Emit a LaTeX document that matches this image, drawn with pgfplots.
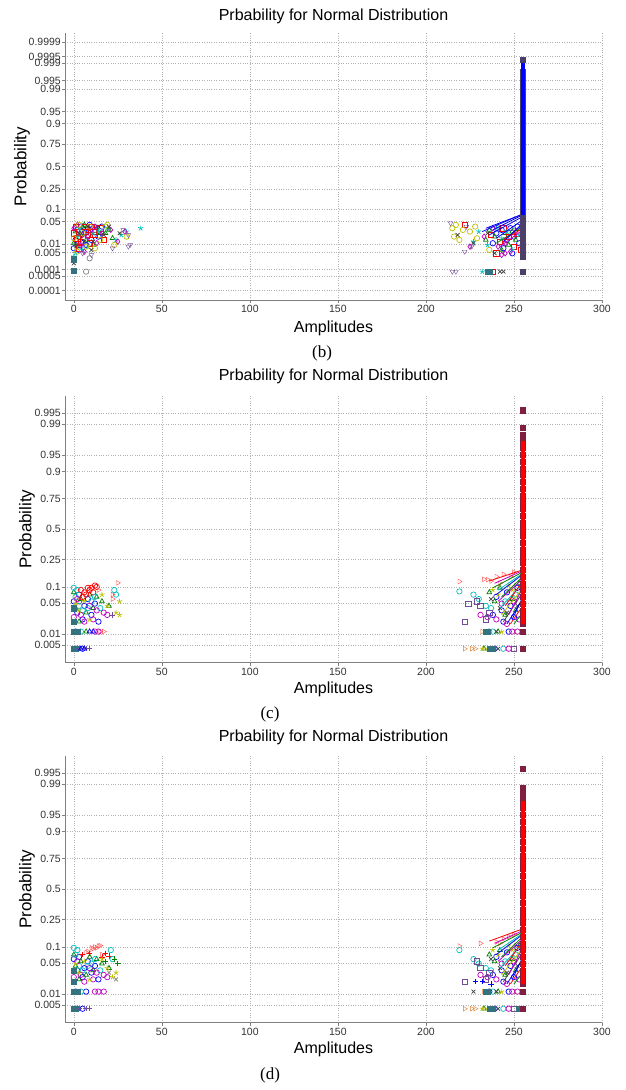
\documentclass[border=0pt]{standalone}
\usepackage{pgfplots}
\pgfplotsset{compat=1.18}
\usepackage{fontspec}
\setmainfont{Liberation Sans}
\newfontfamily\capfont{Liberation Serif}
\definecolor{mb}{rgb}{0,0,1}
\definecolor{mg}{rgb}{0,0.5,0}
\definecolor{mr}{rgb}{1,0,0}
\definecolor{mc}{rgb}{0,0.75,0.75}
\definecolor{mm}{rgb}{0.75,0,0.75}
\definecolor{my}{rgb}{0.75,0.75,0}
\definecolor{mk}{rgb}{0.25,0.25,0.25}
\definecolor{mp}{rgb}{0.45,0.3,0.6}
\definecolor{mo}{rgb}{0.85,0.5,0.2}
\definecolor{mt}{rgb}{0.2,0.45,0.5}
\definecolor{sqb}{rgb}{0.3,0.25,0.42}
\definecolor{sqr}{rgb}{0.5,0.12,0.25}
\definecolor{axgray}{rgb}{0.5,0.5,0.5}
\pgfplotsset{
  npp/.style={
    scale only axis, width=537pt, height=267pt,
    xmin=-5, xmax=300, xtick={0,50,100,150,200,250,300},
    axis x line*=bottom, axis y line*=left,
    axis line style={axgray, line width=0.8pt},
    tick style={axgray, line width=0.6pt}, tick align=outside, major tick length=3pt,
    grid=major, major grid style={dotted, gray!60, line width=0.6pt},
    tick label style={font=\fontsize{10.5}{12}\selectfont, text=black!80},
    yticklabel style={inner sep=1pt},
    xticklabel style={inner sep=2pt},
    /pgf/number format/assume math mode=true,
    title={Prbability for Normal Distribution},
    every axis title/.style={anchor=center, font=\fontsize{16}{19}\selectfont},
    xlabel={Amplitudes}, ylabel={Probability},
    every axis x label/.style={anchor=center, font=\fontsize{16}{19}\selectfont},
    every axis y label/.style={rotate=90, anchor=center, font=\fontsize{17}{19}\selectfont},
    clip=false, clip marker paths=true,
  },
  pm/.style={only marks, mark size=2.7pt, mark options={line width=0.7pt, solid}},
  sq/.style={only marks, mark=square*, mark size=2.6pt},
  fl/.style={line width=0.8pt},
}
\begin{document}
\begin{tikzpicture}
\path[use as bounding box] (0,0) rectangle (626pt,1090pt);
% ---------------- panel (b) ----------------
\begin{axis}[npp, at={(65pt,790pt)}, anchor=south west,
  ymin=-4.0, ymax=4.0,
  ytick={-3.7190,-3.2905,-3.0902,-2.5758,-2.3263,-1.6449,-1.2816,-0.6745,0,0.6745,1.2816,1.6449,2.3263,2.5758,3.0902,3.2905,3.7190},
  yticklabels={0.0001,0.0005,0.001,0.005,0.01,0.05,0.1,0.25,0.5,0.75,0.9,0.95,0.99,0.995,0.999,0.9995,0.9999},
  title style={at={(axis description cs:0.5,1.064)}},
  xlabel style={at={(axis description cs:0.5,-0.105)}},
  ylabel style={at={(axis description cs:-0.080,0.5)}}]
% left cluster
\addplot[pm, mb, mark=o] coordinates {(0,-2.45) (1,-2.2) (2,-1.9) (3,-2.1) (4,-1.8) (5,-2.3) (6,-2.0) (8,-1.85) (10,-2.2) (12,-1.9) (14,-2.1) (16,-1.8) (3,-2.5) (7,-2.35) (9,-1.75)};
\addplot[pm, mg, mark=triangle] coordinates {(0,-2.3) (1,-1.95) (2,-2.4) (4,-2.05) (5,-1.8) (7,-2.2) (9,-1.95) (11,-2.35) (13,-1.85) (18,-2.0) (20,-1.9) (22,-2.15) (6,-1.75) (15,-2.0)};
\addplot[pm, mr, mark=square] coordinates {(0,-2.0) (1,-1.8) (3,-2.45) (4,-2.25) (6,-1.8) (7,-1.95) (9,-2.3) (10,-1.8) (12,-2.05) (15,-1.85) (17,-2.2) (2,-2.15) (8,-2.05) (11,-1.95)};
\addplot[pm, mc, mark=star] coordinates {(0,-2.7) (1,-2.6) (2,-2.1) (3,-1.85) (5,-2.5) (8,-2.4) (11,-2.0) (14,-1.95) (19,-1.85) (24,-2.2) (27,-2.05) (30,-1.95) (38,-1.85)};
\addplot[pm, mm, mark=diamond] coordinates {(0,-1.85) (2,-1.75) (4,-2.35) (6,-2.55) (8,-2.1) (10,-1.9) (13,-2.3) (16,-2.0) (21,-1.9) (25,-2.25) (29,-1.95) (5,-2.05) (12,-1.8)};
\addplot[pm, my, mark=o] coordinates {(0,-2.15) (2,-2.55) (3,-1.75) (5,-2.0) (7,-2.4) (9,-1.8) (12,-2.45) (15,-2.2) (18,-1.8) (23,-2.35) (30,-2.1) (19,-1.75)};
\addplot[pm, mk, mark=x] coordinates {(0,-2.9) (1,-2.35) (3,-2.0) (6,-2.25) (8,-1.8) (11,-2.25) (14,-1.8) (17,-2.05) (20,-1.8) (26,-2.0) (10,-2.5)};
\addplot[pm, mp, mark=triangle, mark options={rotate=180}] coordinates {(0,-3.1) (10,-2.65) (31,-2.4) (32,-2.35) (22,-2.45) (5,-2.6) (28,-1.9) (31,-2.05)};
\addplot[pm, gray, mark=o] coordinates {(7,-3.15) (9,-2.75)};
\addplot[sq, mt] coordinates {(0,-3.12) (0,-2.78)};
% right cluster
\addplot[pm, mb, mark=o] coordinates {(240,-2.0) (243,-1.9) (246,-2.2) (248,-1.85) (250,-2.1) (252,-1.8) (253,-2.3) (238,-2.3) (244,-2.45) (249,-2.6)};
\addplot[pm, mg, mark=triangle] coordinates {(236,-1.9) (239,-2.1) (241,-1.8) (245,-2.0) (247,-2.35) (249,-1.95) (251,-2.2) (234,-2.2) (243,-2.5)};
\addplot[pm, mr, mark=square] coordinates {(237,-2.05) (242,-2.25) (244,-1.85) (247,-2.1) (250,-2.4) (252,-2.0) (254,-2.5) (238,-3.15) (240,-2.6) (222,-1.75)};
\addplot[pm, mc, mark=star] coordinates {(230,-1.95) (235,-2.35) (240,-1.85) (243,-2.15) (246,-1.95) (249,-2.5) (253,-2.05) (232,-3.15) (227,-2.25)};
\addplot[pm, mm, mark=diamond] coordinates {(233,-2.1) (238,-1.85) (241,-2.4) (245,-2.3) (248,-2.55) (251,-1.95) (245,-2.6) (243,-2.65) (225,-2.4)};
\addplot[pm, my, mark=o] coordinates {(215,-1.85) (217,-1.75) (219,-2.2) (221,-1.9) (225,-1.95) (229,-2.15) (236,-2.5) (228,-1.8) (216,-2.1)};
\addplot[pm, mk, mark=x] coordinates {(218,-2.05) (227,-2.3) (239,-2.6) (242,-3.15) (244,-3.15) (235,-2.0)};
\addplot[pm, mp, mark=triangle, mark options={rotate=180}] coordinates {(215,-3.15) (217,-3.15) (222,-2.55) (226,-2.4) (223,-1.8) (214,-1.7)};
\addplot[sq, mt] coordinates {(235,-3.15) (236,-3.15)};
% reference lines
\addplot[fl, mg] coordinates {(240,-2.3) (255,-1.8)};
\addplot[fl, mm] coordinates {(242,-2.4) (255,-1.9)};
\addplot[fl, mr] coordinates {(244,-2.2) (255,-1.85)};
\addplot[fl, mb] coordinates {(232,-1.95) (255,-1.42)};
\addplot[fl, mb] coordinates {(236,-2.05) (255,-1.5)};
\addplot[fl, mb] coordinates {(240,-2.15) (255,-1.6)};
\addplot[fl, mb] coordinates {(244,-2.25) (255,-1.7)};
\addplot[fl, mb] coordinates {(238,-1.9) (255,-1.45)};
\addplot[fl, mb] coordinates {(234,-1.85) (255,-1.43)};
% stack at 255
\addplot[sq, sqb] coordinates {(255,-3.15) (255,-2.7) (255,-2.55) (255,-2.4) (255,-2.25) (255,-2.1) (255,-1.95) (255,-1.8) (255,-1.65) (255,-1.5) (255,-1.35) (255,-1.2) (255,-1.05) (255,-0.9) (255,-0.75) (255,-0.6) (255,-0.45) (255,-0.3) (255,-0.15) (255,0) (255,0.15) (255,0.3) (255,0.45) (255,0.6) (255,0.75) (255,0.9) (255,1.05) (255,1.2) (255,1.35) (255,1.5) (255,1.65) (255,1.8) (255,1.95) (255,2.1) (255,2.25) (255,2.4) (255,2.55) (255,2.7) (255,2.85) (255,3.2)};
\addplot[mb, line width=3.8pt] coordinates {(255,-1.45) (255,3.1)};
\end{axis}
% ---------------- panel (c) ----------------
\begin{axis}[npp, at={(65pt,427.3pt)}, anchor=south west,
  ymin=-2.96, ymax=2.96,
  ytick={-2.5758,-2.3263,-1.6449,-1.2816,-0.6745,0,0.6745,1.2816,1.6449,2.3263,2.5758},
  yticklabels={0.005,0.01,0.05,0.1,0.25,0.5,0.75,0.9,0.95,0.99,0.995},
  title style={at={(axis description cs:0.5,1.071)}},
  xlabel style={at={(axis description cs:0.5,-0.101)}},
  ylabel style={at={(axis description cs:-0.0708,0.5)}}]
% left cluster
\addplot[pm, mb, mark=o] coordinates {(0,-1.6) (2,-1.85) (3,-1.45) (5,-2.0) (6,-1.7) (8,-1.55) (10,-1.9) (12,-1.65) (14,-2.05) (2,-2.65) (5,-2.65) (1,-2.27)};
\addplot[pm, mg, mark=triangle] coordinates {(0,-1.4) (1,-1.75) (3,-2.05) (4,-1.55) (7,-1.85) (9,-1.45) (11,-1.75) (13,-1.5) (16,-1.6) (7,-2.27) (20,-1.7)};
\addplot[pm, mr, mark=o] coordinates {(4,-1.35) (6,-1.4) (8,-1.3) (9,-1.35) (10,-1.3) (12,-1.25) (13,-1.28) (7,-1.45) (5,-1.5) (11,-1.4) (3,-1.6)};
\addplot[pm, mr!70, mark=triangle, mark options={rotate=-90}] coordinates {(25,-1.19) (22,-1.45) (14,-1.35) (17,-2.27) (15,-2.27) (22,-1.55)};
\addplot[pm, mc, mark=o] coordinates {(0,-1.3) (1,-1.5) (2,-1.35) (3,-1.7) (5,-1.8) (8,-1.75) (10,-1.6) (12,-1.5) (15,-1.75) (24,-1.45) (23,-1.35) (4,-2.27)};
\addplot[pm, mm, mark=o] coordinates {(0,-1.95) (2,-1.55) (4,-1.9) (6,-2.05) (9,-1.7) (11,-2.0) (13,-1.8) (17,-1.85) (19,-1.9) (12,-2.27) (14,-2.27)};
\addplot[pm, my, mark=star] coordinates {(1,-1.65) (3,-1.8) (6,-1.6) (9,-2.0) (16,-1.45) (19,-1.7) (26,-1.6) (24,-1.85) (26,-1.9)};
\addplot[sq, mt] coordinates {(0,-2.27) (1,-2.27) (2,-2.27) (0,-2.65) (1,-2.65) (0,-2.05) (0,-1.75)};
\addplot[pm, mp, mark=+] coordinates {(9,-2.65) (7,-2.65) (3,-2.65) (22,-1.9)};
\addplot[pm, mb, mark=triangle] coordinates {(4,-2.65) (6,-2.65) (9,-2.27) (11,-2.27)};
% right cluster
\addplot[pm, mb, mark=o] coordinates {(240,-1.5) (243,-1.8) (246,-1.4) (248,-1.7) (250,-1.95) (252,-1.3) (238,-1.9) (244,-2.05) (247,-2.27) (239,-2.65)};
\addplot[pm, mg, mark=triangle] coordinates {(236,-1.4) (239,-1.6) (242,-1.3) (245,-1.9) (249,-1.55) (251,-1.8) (253,-1.2) (241,-2.27) (233,-2.65)};
\addplot[pm, mr!70, mark=triangle, mark options={rotate=-90}] coordinates {(219,-1.16) (233,-1.11) (235,-1.12) (237,-1.15) (240,-1.05) (244,-1.0) (248,-1.05) (242,-1.2) (250,-0.95)};
\addplot[pm, mc, mark=o] coordinates {(219,-1.38) (227,-1.45) (230,-1.55) (234,-1.7) (237,-1.75) (245,-1.6) (251,-1.45) (236,-2.27) (238,-2.27) (244,-2.65)};
\addplot[pm, mm, mark=o] coordinates {(231,-1.9) (235,-1.95) (240,-2.0) (246,-2.1) (250,-1.6) (253,-2.0) (243,-1.65) (249,-2.27) (252,-2.27) (247,-2.65)};
\addplot[pm, mp, mark=square] coordinates {(222,-2.06) (224,-1.65) (231,-1.7) (234,-2.0) (236,-1.85) (250,-2.65) (229,-1.6)};
\addplot[pm, my, mark=star] coordinates {(238,-1.35) (241,-1.45) (247,-1.25) (249,-1.35) (232,-2.65) (235,-2.65) (243,-2.27)};
\addplot[pm, mk, mark=x] coordinates {(237,-1.55) (242,-1.75) (246,-1.85) (252,-1.7) (240,-2.27) (241,-2.65)};
\addplot[pm, mo, mark=triangle, mark options={rotate=-90}] coordinates {(222,-2.65) (226,-2.65) (228,-2.65) (232,-2.27)};
\addplot[sq, mt] coordinates {(234,-2.27) (235,-2.27) (236,-2.65) (237,-2.65) (238,-2.65)};
% reference lines
\addplot[fl, mr] coordinates {(236,-1.15) (255,-0.9)};
\addplot[fl, mg] coordinates {(238,-1.3) (255,-0.95)};
\addplot[fl, mb] coordinates {(240,-1.45) (255,-1.0)};
\addplot[fl, mm] coordinates {(241,-1.6) (255,-1.1)};
\addplot[fl, mc] coordinates {(242,-1.75) (255,-1.2)};
\addplot[fl, my] coordinates {(243,-1.9) (255,-1.3)};
\addplot[fl, mk] coordinates {(244,-2.05) (255,-1.4)};
\addplot[fl, mb] coordinates {(246,-2.1) (255,-1.55)};
\addplot[fl, mr] coordinates {(248,-2.1) (255,-1.7)};
\addplot[fl, mg] coordinates {(250,-2.1) (255,-1.85)};
\addplot[fl, mm] coordinates {(239,-1.2) (255,-0.92)};
\addplot[fl, mc] coordinates {(241,-1.35) (255,-0.98)};
\addplot[fl, mg] coordinates {(243,-1.5) (255,-1.05)};
\addplot[fl, mr] coordinates {(245,-1.7) (255,-1.15)};
\addplot[fl, mm] coordinates {(247,-1.9) (255,-1.3)};
\addplot[fl, mb] coordinates {(249,-2.0) (255,-1.5)};
% stack at 255
\addplot[sq, sqr] coordinates {(255,-2.65) (255,-2.27) (255,-2.1) (255,-1.95) (255,-1.8) (255,-1.65) (255,-1.5) (255,-1.35) (255,-1.2) (255,-1.05) (255,-0.9) (255,-0.75) (255,-0.6) (255,-0.45) (255,-0.3) (255,-0.15) (255,0) (255,0.15) (255,0.3) (255,0.45) (255,0.6) (255,0.75) (255,0.9) (255,1.05) (255,1.2) (255,1.35) (255,1.5) (255,1.65) (255,1.8) (255,1.95) (255,2.1) (255,2.25) (255,2.64)};
\addplot[mr, line width=3.8pt] coordinates {(255,-2.1) (255,1.95)};
\end{axis}
% ---------------- panel (d) ----------------
\begin{axis}[npp, at={(65pt,67.3pt)}, anchor=south west,
  ymin=-2.96, ymax=2.96,
  ytick={-2.5758,-2.3263,-1.6449,-1.2816,-0.6745,0,0.6745,1.2816,1.6449,2.3263,2.5758},
  yticklabels={0.005,0.01,0.05,0.1,0.25,0.5,0.75,0.9,0.95,0.99,0.995},
  title style={at={(axis description cs:0.5,1.067)}},
  xlabel style={at={(axis description cs:0.5,-0.101)}},
  ylabel style={at={(axis description cs:-0.0708,0.5)}}]
% left cluster
\addplot[pm, mb, mark=o] coordinates {(0,-1.55) (2,-1.8) (3,-1.5) (5,-1.95) (6,-1.75) (8,-1.6) (10,-1.85) (12,-1.7) (14,-2.0) (2,-2.65) (5,-2.65) (1,-2.27) (7,-2.27)};
\addplot[pm, mg, mark=triangle] coordinates {(0,-1.45) (1,-1.7) (3,-2.0) (4,-1.6) (7,-1.9) (9,-1.5) (11,-1.8) (13,-1.55) (16,-1.65) (20,-1.75)};
\addplot[pm, mr!70, mark=triangle, mark options={rotate=-90}] coordinates {(10,-1.3) (11,-1.32) (12,-1.28) (13,-1.3) (14,-1.26) (15,-1.25) (7,-1.4) (8,-1.38) (16,-1.45)};
\addplot[pm, mr, mark=+] coordinates {(16,-1.5) (18,-1.42) (20,-1.48) (5,-1.45) (9,-1.42)};
\addplot[pm, mc, mark=o] coordinates {(0,-1.3) (1,-1.45) (2,-1.35) (3,-1.7) (5,-1.8) (8,-1.7) (10,-1.65) (12,-1.55) (15,-1.8) (22,-1.55) (21,-1.35) (4,-2.27)};
\addplot[pm, mm, mark=o] coordinates {(0,-1.95) (2,-1.6) (4,-1.9) (6,-2.05) (9,-1.75) (11,-2.0) (13,-1.85) (17,-1.9) (19,-1.95) (12,-2.27) (14,-2.27) (17,-2.27)};
\addplot[pm, my, mark=star] coordinates {(1,-1.65) (3,-1.85) (6,-1.6) (9,-2.0) (16,-1.55) (19,-1.75) (24,-1.85) (22,-1.95)};
\addplot[pm, mg, mark=+] coordinates {(25,-1.65) (23,-1.55) (18,-1.6)};
\addplot[sq, mt] coordinates {(0,-2.27) (1,-2.27) (2,-2.27) (0,-2.65) (1,-2.65) (0,-2.05) (0,-1.8)};
\addplot[pm, mp, mark=+] coordinates {(9,-2.65) (7,-2.65) (3,-2.65)};
\addplot[pm, gray, mark=x] coordinates {(24,-2.0) (20,-1.85)};
% right cluster
\addplot[pm, mb, mark=o] coordinates {(240,-1.5) (243,-1.8) (246,-1.4) (248,-1.7) (250,-1.95) (252,-1.3) (238,-1.9) (244,-2.05) (247,-2.27) (239,-2.65) (236,-2.27)};
\addplot[pm, mg, mark=triangle] coordinates {(236,-1.45) (239,-1.6) (242,-1.35) (245,-1.9) (249,-1.55) (251,-1.8) (253,-1.25) (241,-2.27) (233,-2.65)};
\addplot[pm, mr!70, mark=triangle, mark options={rotate=-90}] coordinates {(219,-1.26) (231,-1.2) (240,-1.17) (242,-1.2) (244,-1.1) (247,-1.05) (250,-1.0)};
\addplot[pm, mc, mark=o] coordinates {(219,-1.35) (227,-1.55) (230,-1.65) (234,-1.75) (237,-1.8) (245,-1.6) (251,-1.45) (238,-2.27) (244,-2.65)};
\addplot[pm, mm, mark=o] coordinates {(231,-1.9) (235,-1.95) (240,-2.0) (246,-2.1) (250,-1.6) (253,-2.0) (243,-1.65) (249,-2.27) (252,-2.27) (247,-2.65)};
\addplot[pm, mp, mark=square] coordinates {(222,-2.05) (231,-1.75) (234,-2.0) (236,-1.85) (250,-2.65) (229,-1.6)};
\addplot[pm, mb, mark=+] coordinates {(228,-2.05) (232,-2.05) (237,-2.1)};
\addplot[pm, my, mark=star] coordinates {(238,-1.35) (241,-1.45) (247,-1.25) (249,-1.35) (232,-2.65) (235,-2.65) (243,-2.27)};
\addplot[pm, mk, mark=x] coordinates {(237,-1.55) (242,-1.75) (246,-1.85) (252,-1.7) (240,-2.27) (241,-2.65) (227,-2.27)};
\addplot[pm, mo, mark=triangle, mark options={rotate=-90}] coordinates {(222,-2.65) (226,-2.65) (228,-2.65) (233,-2.27)};
\addplot[sq, mt] coordinates {(234,-2.27) (235,-2.27) (236,-2.65) (237,-2.65) (238,-2.65) (253,-2.65)};
% reference lines
\addplot[fl, mr] coordinates {(236,-1.15) (255,-0.88)};
\addplot[fl, mg] coordinates {(238,-1.3) (255,-0.95)};
\addplot[fl, mb] coordinates {(240,-1.45) (255,-1.0)};
\addplot[fl, mm] coordinates {(241,-1.6) (255,-1.1)};
\addplot[fl, mc] coordinates {(242,-1.75) (255,-1.2)};
\addplot[fl, my] coordinates {(243,-1.9) (255,-1.3)};
\addplot[fl, mk] coordinates {(244,-2.05) (255,-1.4)};
\addplot[fl, mb] coordinates {(246,-2.1) (255,-1.55)};
\addplot[fl, mr] coordinates {(248,-2.1) (255,-1.7)};
\addplot[fl, mg] coordinates {(250,-2.1) (255,-1.85)};
\addplot[fl, mm] coordinates {(239,-1.2) (255,-0.92)};
\addplot[fl, mc] coordinates {(241,-1.35) (255,-0.98)};
\addplot[fl, mg] coordinates {(243,-1.5) (255,-1.05)};
\addplot[fl, mr] coordinates {(245,-1.7) (255,-1.15)};
\addplot[fl, mm] coordinates {(247,-1.9) (255,-1.3)};
\addplot[fl, mb] coordinates {(249,-2.0) (255,-1.5)};
% stack at 255
\addplot[sq, sqr] coordinates {(255,-2.65) (255,-2.27) (255,-2.1) (255,-1.95) (255,-1.8) (255,-1.65) (255,-1.5) (255,-1.35) (255,-1.2) (255,-1.05) (255,-0.9) (255,-0.75) (255,-0.6) (255,-0.45) (255,-0.3) (255,-0.15) (255,0) (255,0.15) (255,0.3) (255,0.45) (255,0.6) (255,0.75) (255,0.9) (255,1.05) (255,1.2) (255,1.35) (255,1.5) (255,1.65) (255,1.8) (255,1.95) (255,2.1) (255,2.24) (255,2.67)};
\addplot[mr, line width=3.8pt] coordinates {(255,-2.1) (255,1.96)};
\end{axis}
% captions
\node[font=\capfont\fontsize{17}{19}\selectfont] at (322pt,737pt) {(b)};
\node[font=\capfont\fontsize{17}{19}\selectfont] at (270pt,376pt) {(c)};
\node[font=\capfont\fontsize{17}{19}\selectfont] at (270pt,15pt) {(d)};
\end{tikzpicture}
\end{document}
